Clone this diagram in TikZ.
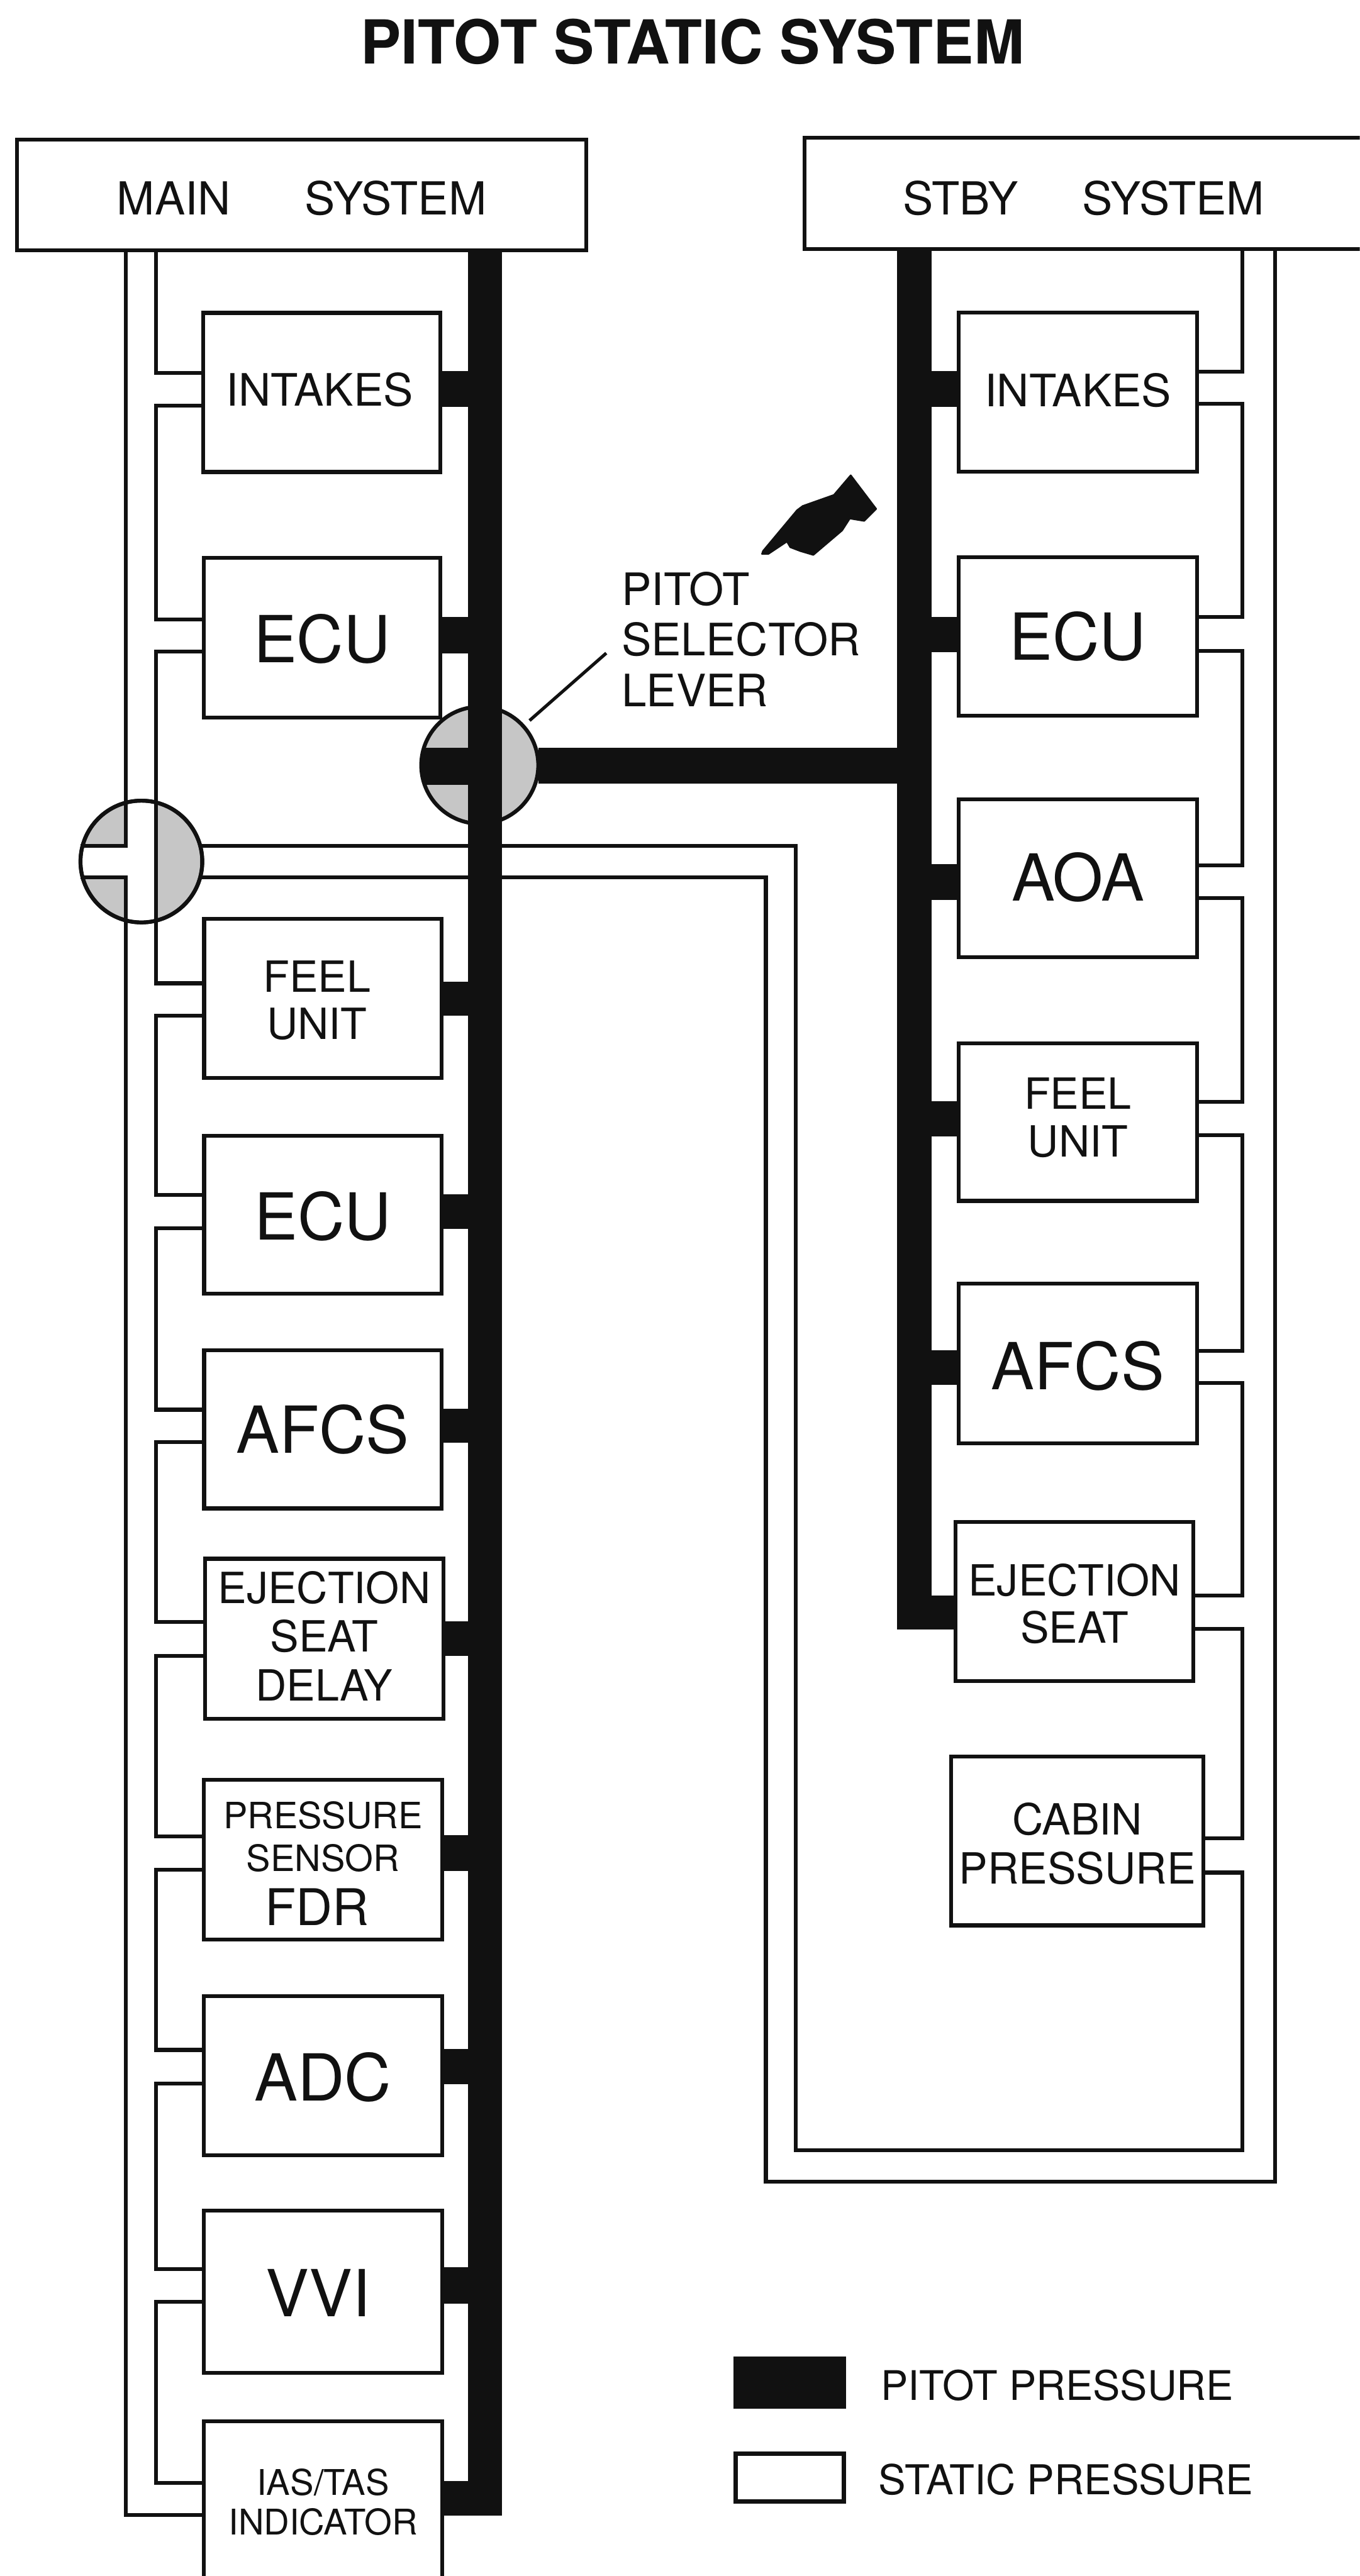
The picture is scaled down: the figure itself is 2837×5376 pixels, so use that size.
\documentclass[tikz,border=0pt]{standalone}
\usepackage{fontspec}
\setmainfont{TeX Gyre Heros}
\usetikzlibrary{calc}
\definecolor{ink}{HTML}{111111}
\definecolor{valvegray}{HTML}{C6C6C6}
\def\pxpt{0.28453}
\newcommand\fs[2]{\fontsize{#1}{#2}\selectfont}
% name, left, right, top, bottom, baseline, font, text
\newcommand\ubox[8]{%
  \pgfmathsetmacro\myw{(#3-#2)*\pxpt}%
  \pgfmathsetmacro\myh{(#6-#4)*\pxpt}%
  \pgfmathsetmacro\myd{(#5-#6)*\pxpt}%
  \node[unit,font=#7,minimum width=\myw pt,text height=\myh pt,text depth=\myd pt] (#1) at ({(#2+#3)/2},{(#4+#5)/2}) {#8};}
% name, side, upper y, lower y
\newcommand\ports[4]{%
  \coordinate (tmpa) at (0,#3);\coordinate (tmpb) at (0,#4);
  \coordinate (#1u) at (#1.#2 |- tmpa);\coordinate (#1l) at (#1.#2 |- tmpb);}
% lower port of a to upper port of b along bus
\newcommand\link[3]{\draw[pipe] (#1) -- (#1 -| #3) -- (#2 -| #3) -- (#2);}
% box, side, top, bottom, bar
\newcommand\hstub[5]{%
  \pgfmathsetmacro\myw{(#4-#3)*\pxpt}%
  \coordinate (tmpa) at (0,{(#3+#4)/2});
  \draw[ink,line width=\myw pt] (#1.#2 |- tmpa) -- (tmpa -| #5);}
\newcommand\fbig{\fs{38.5}{42}}
\newcommand\fmid{\fs{26.5}{28.6}}
\newcommand\nudge{\hspace{7pt}\mbox{}}
\tikzset{
  x=0.01cm,y=-0.01cm,
  unit/.style={draw=ink,fill=white,line width=2.3pt,inner sep=0pt,outer sep=0pt,align=center,text=ink},
  pipe/.style={draw=ink,line width=2.3pt,line join=miter},
  valve/.style={circle,draw=ink,fill=valvegray,line width=2.3pt,inner sep=0pt,outer sep=0pt},
  lab/.style={text=ink,inner sep=0pt,outer sep=0pt},
  keybox/.style={draw=ink,line width=2.6pt,inner sep=0pt,outer sep=0pt,minimum width=225*\pxpt pt,minimum height=100*\pxpt pt},
}
\begin{document}
\begin{tikzpicture}
\clip[use as bounding box] (0,0) rectangle (2837,5376);
\fill[white] (0,0) rectangle (2837,5376);

% title
\node[lab,anchor=base,font=\bfseries\fs{36}{40}] (title) at (1445,133) {PITOT STATIC SYSTEM};

% header boxes
\ubox{Lmain}{36}{1223}{291}{522}{448}{\fs{27}{30}}{MAIN\hspace{44pt}SYSTEM}
\ubox{Rmain}{1679}{2843}{288}{520}{448}{\fs{27}{30}}{STBY\hspace{38pt}SYSTEM}

% buses
\coordinate (Lo) at (262,522);
\coordinate (Li) at (325,522);
\coordinate (Ro) at (2660,520);
\coordinate (Ri) at (2592,520);
\coordinate (LB) at (1012,522);
\coordinate (LBend) at (1012,5250);
\coordinate (RB) at (1908,520);
\coordinate (RBend) at (1908,3401);

% left column
\ubox{La}{424}{919}{653}{985}{847}{\fmid}{INTAKES\hspace{2.5pt}}
\ubox{Lb}{425}{919}{1164}{1497}{1383}{\fbig}{ECU}
\ubox{Lc}{426}{921}{1918}{2250}{2169}{\fs{25.5}{28.2}}{FEEL\nudge\\UNIT\nudge}
\ubox{Ld}{426}{921}{2370}{2700}{2588}{\fbig}{ECU}
\ubox{Le}{426}{921}{2818}{3148}{3032}{\fbig}{AFCS}
\ubox{Lf}{428}{925}{3253}{3587}{3549}{\fs{25.5}{28.8}}{EJECTION\\SEAT\\DELAY}
\ubox{Lg}{425}{923}{3714}{4048}{4018}{\fs{21.5}{25.3}}{PRESSURE\\SENSOR\\[6.7pt]{\fs{30}{25.3}FDR\nudge}}
\ubox{Lh}{425}{923}{4166}{4498}{4384}{\fbig}{ADC}
\ubox{Li2}{425}{923}{4614}{4952}{4835}{\fbig}{VVI\hspace{5.7pt}}
\ubox{Lj}{425}{923}{5053}{5600}{5290}{\fs{21}{23.6}}{IAS/TAS\\INDICATOR}

\ports{La}{west}{778}{847}
\ports{Lb}{west}{1293}{1360}
\ports{Lc}{west}{2052}{2120}
\ports{Ld}{west}{2494}{2563}
\ports{Le}{west}{2942}{3009}
\ports{Lf}{west}{3385}{3456}
\ports{Lg}{west}{3833}{3902}
\ports{Lh}{west}{4278}{4348}
\ports{Li2}{west}{4735}{4804}
\ports{Lj}{west}{5182}{5249}

% right column
\ubox{Ra}{2000}{2498}{652}{984}{849}{\fmid}{INTAKES}
\ubox{Rb}{2000}{2498}{1163}{1494}{1378}{\fbig}{ECU}
\ubox{Rc}{2000}{2498}{1668}{1998}{1880}{\fbig}{AOA}
\ubox{Rd}{2000}{2498}{2177}{2506}{2414}{\fs{25.5}{28.2}}{FEEL\\UNIT}
\ubox{Re}{2000}{2498}{2679}{3012}{2900}{\fbig}{AFCS}
\ubox{Rf}{1994}{2490}{3176}{3508}{3429}{\fs{25.5}{28.2}}{EJECTION\\SEAT}
\ubox{Rg}{1985}{2511}{3666}{4018}{3931}{\fs{25.5}{29}}{CABIN\\PRESSURE}

\ports{Ra}{east}{776}{843}
\ports{Rb}{east}{1288}{1358}
\ports{Rc}{east}{1806}{1874}
\ports{Rd}{east}{2299}{2369}
\ports{Re}{east}{2819}{2886}
\ports{Rf}{east}{3330}{3399}
\ports{Rg}{east}{3836}{3908}

% static chains, left
\draw[pipe] (Li) |- (Lau);
\link{Lal}{Lbu}{Li}
\link{Lcl}{Ldu}{Li}
\link{Ldl}{Leu}{Li}
\link{Lel}{Lfu}{Li}
\link{Lfl}{Lgu}{Li}
\link{Lgl}{Lhu}{Li}
\link{Lhl}{Li2u}{Li}
\link{Li2l}{Lju}{Li}

% static chains, right
\draw[pipe] (Ri) |- (Rau);
\link{Ral}{Rbu}{Ri}
\link{Rbl}{Rcu}{Ri}
\link{Rcl}{Rdu}{Ri}
\link{Rdl}{Reu}{Ri}
\link{Rel}{Rfu}{Ri}
\link{Rfl}{Rgu}{Ri}

% shut-off valve on the static lines
\node[valve,minimum size=254*\pxpt pt] (V2) at (295,1798) {};
\begin{scope}
  \clip (295,1798) circle [radius=123];
  \fill[white] (262,1600) rectangle (325,2000);
  \fill[white] (100,1765) rectangle (262,1831);
\end{scope}
\coordinate (armT) at (262,1765);
\coordinate (armB) at (262,1831);
\draw[pipe] (Lo) -- (armT) -- (armT -| V2.west);
\draw[pipe] (Ljl) -| (Lo |- armB) -- (armB -| V2.west);
\draw[ink,line width=2.3pt] (V2.center) circle [radius=127];
\link{Lbl}{Lcu}{Li}

% long static returns
\coordinate (s1) at (1660,4487);
\coordinate (s2) at (1598,4553);
\draw[pipe] (V2.15) -- (V2.15 -| s1) -- (s1) -- (s1 -| Ri) -- (Rgl -| Ri) -- (Rgl);
\draw[pipe] (V2.-15) -- (V2.-15 -| s2) -- (s2) -- (s2 -| Ro) -- (Ro);

% selector valve
\node[valve,minimum size=244*\pxpt pt] (V1) at (1001,1597) {};
\begin{scope}
  \clip (1001,1597) circle [radius=125];
  \fill[ink] (860,1560) rectangle (1012,1638);
\end{scope}
\coordinate (leadT) at (1265,1363);
\draw[ink,line width=1.9pt,shorten >=5pt] (leadT) -- (V1.42);

% pitot bars
\draw[ink,line width=70*\pxpt pt] (LB) -- (LBend);
\draw[ink,line width=72*\pxpt pt] (RB) -- (RBend);
\coordinate (selmid) at (1500,1598);
\draw[ink,line width=75*\pxpt pt] (V1.east |- selmid) -- (selmid -| RB);
\hstub{La}{east}{774}{849}{LB}
\hstub{Lb}{east}{1288}{1363}{LB}
\hstub{Lc}{east}{2049}{2120}{LB}
\hstub{Ld}{east}{2492}{2565}{LB}
\hstub{Le}{east}{2940}{3011}{LB}
\hstub{Lf}{east}{3384}{3456}{LB}
\hstub{Lg}{east}{3830}{3904}{LB}
\hstub{Lh}{east}{4276}{4350}{LB}
\hstub{Li2}{east}{4732}{4807}{LB}
\hstub{Lj}{east}{5178}{5250}{LB}
\hstub{Ra}{west}{774}{849}{RB}
\hstub{Rb}{west}{1288}{1361}{RB}
\hstub{Rc}{west}{1804}{1878}{RB}
\hstub{Rd}{west}{2298}{2372}{RB}
\hstub{Re}{west}{2818}{2890}{RB}
\hstub{Rf}{west}{3330}{3401}{RB}

% lever label and hand
\node[lab,anchor=base west,align=left,font=\fs{26.5}{30}] (lever) at (1297,1474) {PITOT\\SELECTOR\\LEVER};
\filldraw[ink,line join=round,line width=1pt] (1590,1156) -- (1592,1150) -- (1663,1065) -- (1675,1056) -- (1740,1033) -- (1775,992) -- (1828,1062) -- (1803,1087) -- (1773,1082) -- (1757,1107) -- (1697,1158) -- (1670,1150) -- (1649,1142) -- (1642,1130) -- (1603,1156) -- cycle;

% legend
\node[keybox,fill=ink] (keyA) at (1648,4972) {};
\node[keybox,fill=white] (keyB) at (1648,5171) {};
\node[lab,anchor=base west,font=\fs{24.2}{27}] (keyAt) at (1838,5009) {PITOT PRESSURE};
\node[lab,anchor=base west,font=\fs{24.4}{27}] (keyBt) at (1833,5206) {STATIC PRESSURE};
\end{tikzpicture}
\end{document}
